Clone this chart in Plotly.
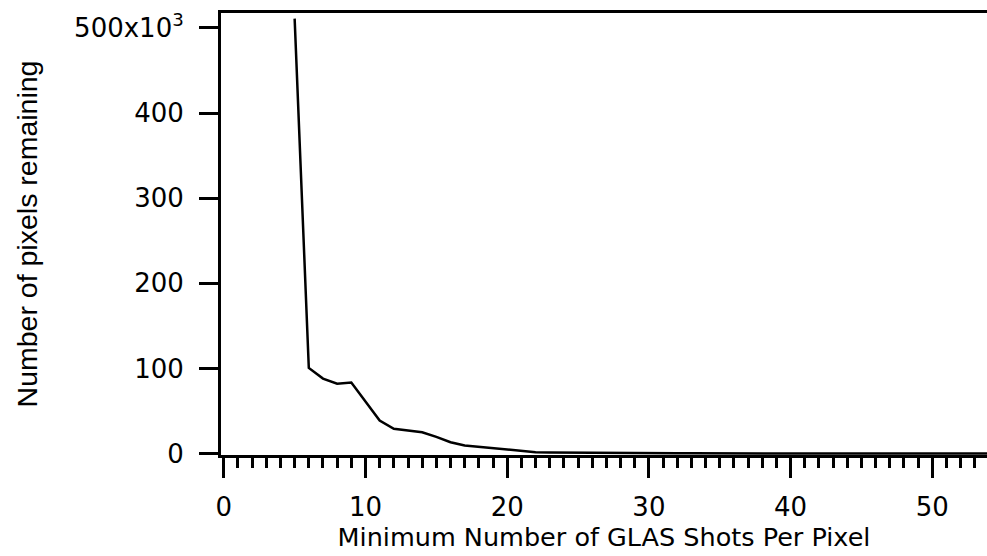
import plotly.graph_objects as go

min_shots = list(range(5, 56))
pixels_remaining = [
    511000, 100500, 88000, 82000, 83500, 61300, 38700, 29000, 27000, 25000,
    19500, 13300, 9400, 7800, 6200, 4700, 2700, 1500, 1200, 1000,
    800, 650, 520, 420, 340, 280, 230, 190, 160, 140,
    120, 100, 90, 80, 70, 60, 55, 50, 45, 40,
    35, 30, 28, 25, 22, 20, 18, 16, 14, 12, 10,
]

y_tickvals = [0, 100000, 200000, 300000, 400000, 500000]
y_ticktext = ["0", "100", "200", "300", "400", "500x10<sup>3</sup>"]
x_tickvals = [0, 10, 20, 30, 40, 50]
x_ticktext = ["0", "10", "20", "30", "40", "50"]

FONT = "DejaVu Sans"
TITLE_FONT_Y = "Liberation Sans"

fig = go.Figure()
fig.add_trace(go.Scatter(
    x=min_shots, y=pixels_remaining, mode="lines",
    line=dict(color="black", width=2.5), showlegend=False,
))

fig.update_layout(
    width=987, height=556,
    margin=dict(l=220.5, r=0, t=12.5, b=100.5),
    paper_bgcolor="white", plot_bgcolor="white",
    font=dict(family=FONT, size=26, color="black"),
    xaxis=dict(
        range=[-0.197, 53.86],
        tickvals=x_tickvals, ticktext=x_ticktext,
        ticks="outside", ticklen=20, tickwidth=2.5, tickcolor="black",
        minor=dict(dtick=1, ticks="outside", ticklen=10, tickwidth=2.5, tickcolor="black", showgrid=False),
        showline=True, linewidth=3, linecolor="black", mirror=True,
        showgrid=False, zeroline=False,
        ticklabelstandoff=7,
        title=dict(text="Minimum Number of GLAS Shots Per Pixel",
                   font=dict(family=FONT, size=25.5), standoff=6),
        tickfont=dict(family=FONT, size=26),
    ),
    yaxis=dict(
        range=[-1760, 517600],
        tickvals=y_tickvals, ticktext=y_ticktext,
        ticks="outside", ticklen=19, tickwidth=2.5, tickcolor="black",
        showline=True, linewidth=3, linecolor="black", mirror=False,
        showgrid=False, zeroline=False,
        ticklabelstandoff=10,
        title=dict(text="Number of pixels remaining",
                   font=dict(family=TITLE_FONT_Y, size=28.5), standoff=29),
        tickfont=dict(family=FONT, size=26),
    ),
)

fig.write_html("out.html")
